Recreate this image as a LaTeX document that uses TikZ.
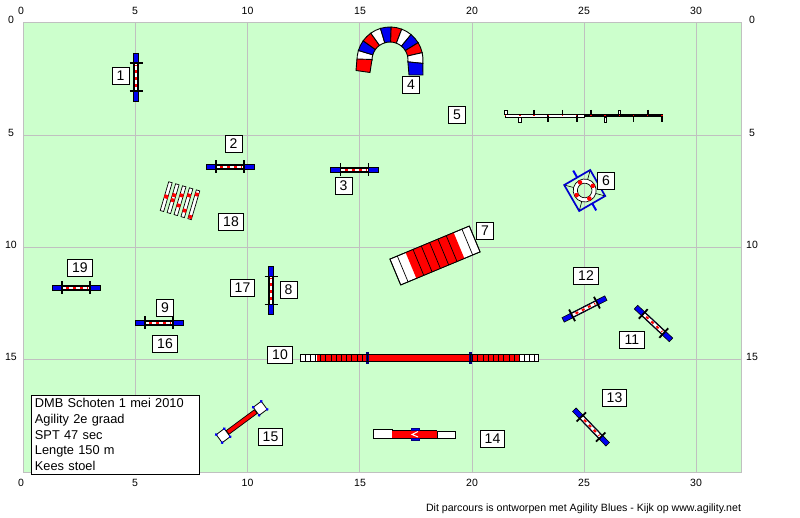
\documentclass[tikz,border=0pt]{standalone}
\usepackage{fontspec}
\setmainfont{Liberation Sans}
\usetikzlibrary{positioning}
\definecolor{fieldgreen}{HTML}{CCFFCC}
\definecolor{gridgray}{HTML}{C0C0C0}
\definecolor{barblue}{HTML}{0000F0}
\definecolor{barred}{HTML}{FF0000}
\definecolor{postnavy}{HTML}{000080}

% one jump: centre x, centre y, rotation
\newcommand{\hurdle}[3]{
  \begin{scope}[shift={(#1,#2)}, rotate=#3]
    \draw[draw=black, line width=0.6pt, fill=barblue] (-24,-2.5) rectangle (24,2.5);
    \fill[black] (-14,-2.2) rectangle (14,2.2);
    \fill[white] (-14,-1.4) rectangle (14,1.4);
    \draw[barred, line width=2pt, dash pattern=on 3pt off 4pt] (-10,0) -- (12,0);
    \draw[line width=1.8pt] (-14,-6.5) -- (-14,6.5);
    \draw[line width=1.8pt] (14,-6.5) -- (14,6.5);
  \end{scope}}

\begin{document}
\begin{tikzpicture}[x=1pt, y=-1pt, line width=1pt,
    numbox/.style={rectangle, draw=black, fill=white, line width=0.9pt, minimum width=17pt,
      minimum height=17pt, inner sep=0pt, font=\fontsize{14}{14}\selectfont},
    widebox/.style={numbox, minimum width=24.5pt},
    axisnum/.style={inner sep=0pt, font=\fontsize{10.5}{11}\selectfont},
    seg/.style={draw=black, line width=0.9pt}]

    \useasboundingbox (0,0) rectangle (800,518);

    % field and grid
    \fill[fieldgreen] (23,23) rectangle (741,472);
    \foreach \k in {1,...,6} {
      \draw[gridgray] (23+\k*112.3,23) -- (23+\k*112.3,472);
    }
    \foreach \k in {1,2,3} {
      \draw[gridgray] (23,23+\k*112.2) -- (741,23+\k*112.2);
    }
    \draw[gridgray] (23,23) rectangle (741,472);

    % scale numbers
    \foreach \n/\px in {0/21,5/135,10/247.5,15/360,20/472,25/584,30/696} {
      \node (top\n) [axisnum] at (\px,11) {\n};
      \node (bot\n) [axisnum] at (\px,483) {\n};
    }
    \foreach \n/\py in {0/20,5/133,10/245,15/357} {
      \node (lft\n) [axisnum] at (11,\py) {\n};
      \node (rgt\n) [axisnum] at (752,\py) {\n};
    }

    % jumps
    \hurdle{136}{77}{90}
    \hurdle{230}{167}{0}
    \hurdle{354.5}{170}{0}
    \hurdle{76}{288}{0}
    \hurdle{159}{323}{0}
    \hurdle{271}{290.5}{90}
    \hurdle{584.5}{309}{27}
    \hurdle{653.5}{323.5}{-43}
    \hurdle{591}{427}{-46}

    % tunnel
    \begin{scope}[shift={(390,60)}]
      \foreach \i/\col in {0/white,1/barblue,2/barred,3/white,4/barblue,
          5/barred,6/white,7/barblue,8/barred,9/white} {
        \pgfmathsetmacro{\aa}{178+\i*18.8}
        \pgfmathsetmacro{\bb}{178+(\i+1)*18.8}
        \draw[seg, fill=\col] (\aa:33) arc (\aa:\bb:33) -- (\bb:18) arc (\bb:\aa:18) -- cycle;
      }
      \draw[seg, fill=barred] (-33,-1) -- (-34,10.5) -- (-20,12.5) -- (-18,-0.5) -- cycle;
      \draw[seg, fill=barblue] (32.8,3.4) -- (33,15) -- (19,15) -- (17.9,1.9) -- cycle;
    \end{scope}

    % weave poles
    \fill[black] (584,114.5) rectangle (663,117);
    \draw[line width=0.7pt, fill=white] (505.5,114.5) rectangle (584,117);
    \foreach \k in {2,4,6,10} {
      \draw[line width=1.8pt] (505.7+\k*14.2,110) -- (505.7+\k*14.2,115.5);
    }
    \foreach \k in {3,5,9,11} {
      \draw[line width=1.8pt] (505.7+\k*14.2,115.5) -- (505.7+\k*14.2,122);
    }
    \foreach \k in {0,8} {
      \draw[line width=0.7pt, fill=white] (504.5+\k*14.2,110.5) rectangle (507+\k*14.2,114.5);
    }
    \foreach \k in {1,7} {
      \draw[line width=0.7pt, fill=white] (504.5+\k*14.2,117) rectangle (507+\k*14.2,122);
    }
    \foreach \k in {0,...,11} {
      \fill[barred] (505+\k*14.2,115.2) rectangle +(1.4,1.2);
    }

    % tyre
    \begin{scope}[shift={(584.7,190.5)}, rotate=30]
      \draw[barblue, line width=2pt] (0,-23) -- (0,-15);
      \draw[barblue, line width=2pt] (0,15) -- (0,23);
      \draw[line width=1.7pt, draw=barblue!85!black] (-15,-15) rectangle (15,15);
      \foreach \a in {0,90,180,270} {
        \draw[line width=0.6pt] (\a+45:10) -- (\a+45:20);
      }
      \draw[line width=0.7pt, fill=white, even odd rule] (0,0) circle (11.5) (0,0) circle (7.3);
      \foreach \a in {0,90,180,270} {
        \fill[barred] (\a:9.3) circle (2.3);
      }
    \end{scope}

    % a-frame
    \begin{scope}[shift={(435,255.5)}, rotate=22.6]
      \draw[line width=0.8pt, fill=white] (-43,-14) rectangle (43,14);
      \fill[barred] (-26,-14) rectangle (26,14);
      \draw[line width=0.8pt] (-43,-14) rectangle (43,14);
      \foreach \px in {-35,-18,-9,0,9,18,35} {
        \draw[line width=0.7pt] (\px,-14) -- (\px,14);
      }
    \end{scope}

    % dog walk
    \draw[line width=0.9pt, fill=white] (300.5,354.5) rectangle (538.5,361.5);
    \fill[barred] (317,355) rectangle (519.5,361);
    \foreach \k in {0,1,2} {
      \draw[line width=0.6pt] (305.7+\k*5,355) -- +(0,6);
      \draw[line width=0.6pt] (524.5+\k*5,355) -- +(0,6);
    }
    \foreach \k in {0,...,9} {
      \draw[line width=0.6pt] (320.5+\k*5.2,355) -- +(0,6);
      \draw[line width=0.6pt] (472.5+\k*5.2,355) -- +(0,6);
    }
    \draw[postnavy, line width=2.5pt] (367.3,352) -- (367.3,364);
    \draw[postnavy, line width=2.5pt] (470.7,352) -- (470.7,364);
    \draw[line width=0.9pt] (367.3,354.5) -- (367.3,361.5);
    \draw[line width=0.9pt] (470.7,354.5) -- (470.7,361.5);
    \draw[line width=0.9pt] (300.5,354.5) -- (538.5,354.5) (300.5,361.5) -- (538.5,361.5);

    % chute
    \draw[line width=0.9pt, fill=white] (373.5,429.5) rectangle (392,438.5);
    \draw[line width=0.9pt, fill=white] (437,431.5) rectangle (455.5,438.5);
    \fill[barred] (392,430) rectangle (437,438);
    \draw[line width=0.9pt] (392,438.5) -- (437,438.5) (392,430) -- (437,430);
    \draw[postnavy, fill=barblue, line width=0.9pt] (411,428.5) rectangle (419,430.5);
    \draw[postnavy, fill=barblue, line width=0.9pt] (411,438.5) rectangle (419,440.5);
    \draw[white, line width=1pt] (418,431.5) -- (412,434.5) -- (418,437);

    % table
    \begin{scope}[shift={(241.7,422)}, rotate=36.5]
      \foreach \s in {-1,1} {
        \draw[line width=0.8pt, fill=white, rounded corners=1pt] (\s*23-5,-5) rectangle (\s*23+5,5);
        \foreach \t in {-1,1} {
          \fill[barblue] (\s*23+\t*5,-5) circle (1.6);
          \fill[barblue] (\s*23+\t*5,5) circle (1.6);
        }
      }
      \draw[line width=0.7pt, fill=barred] (-17.5,-2.3) rectangle (17.5,2.3);
    \end{scope}

    % wall
    \begin{scope}[shift={(180,200.7)}, rotate=73.6]
      \foreach \k/\pa/\pb in {-2/0/0,-1/3.6/-1.6,0/5.5/-5,1/7.6/-8.2,2/10.7/-12.6} {
        \draw[line width=0.7pt, fill=white] (-15,\k*7.2-1.8) rectangle (15,\k*7.2+1.8);
        \fill[barred] (\pa-1.8,\k*7.2-1.8) rectangle (\pa+1.8,\k*7.2+1.8);
        \fill[barred] (\pb-1.8,\k*7.2-1.8) rectangle (\pb+1.8,\k*7.2+1.8);
      }
    \end{scope}

    % numbers
    \node (nr1) [numbox] at (120.5,76) {1};
    \node (nr2) [numbox] at (233.5,143.5) {2};
    \node (nr3) [numbox] at (343.5,186) {3};
    \node (nr4) [numbox] at (411,85) {4};
    \node (nr5) [numbox] at (457,115) {5};
    \node (nr6) [numbox] at (606,181) {6};
    \node (nr7) [numbox] at (485,231) {7};
    \node (nr8) [numbox] at (288.5,290) {8};
    \node (nr9) [numbox] at (165,308) {9};
    \node (nr10) [widebox] at (280,355) {10};
    \node (nr11) [widebox] at (632,340) {11};
    \node (nr12) [widebox] at (586,276) {12};
    \node (nr13) [widebox] at (614.5,398) {13};
    \node (nr14) [widebox] at (492.5,439) {14};
    \node (nr15) [widebox] at (270.5,437) {15};
    \node (nr16) [widebox] at (165,344) {16};
    \node (nr17) [widebox] at (242.5,288) {17};
    \node (nr18) [widebox] at (231,222) {18};
    \node (nr19) [widebox] at (80,267.5) {19};

    % course info
    \node (info) [anchor=north west, draw=black, fill=white, line width=0.9pt, align=left,
      minimum width=168pt, minimum height=79pt, inner xsep=4pt, inner ysep=0pt, text width=160pt,
      font=\fontsize{12.8}{15.6}\selectfont] at (30.5,394.5)
      {DMB Schoten 1 mei 2010\\Agility 2e graad\\SPT 47 sec\\Lengte 150 m\\Kees stoel};

    \node (credit) [anchor=east, inner sep=0pt, font=\fontsize{10.6}{11}\selectfont] at (741.5,509)
      {Dit parcours is ontworpen met Agility Blues - Kijk op www.agility.net};
\end{tikzpicture}
\end{document}
